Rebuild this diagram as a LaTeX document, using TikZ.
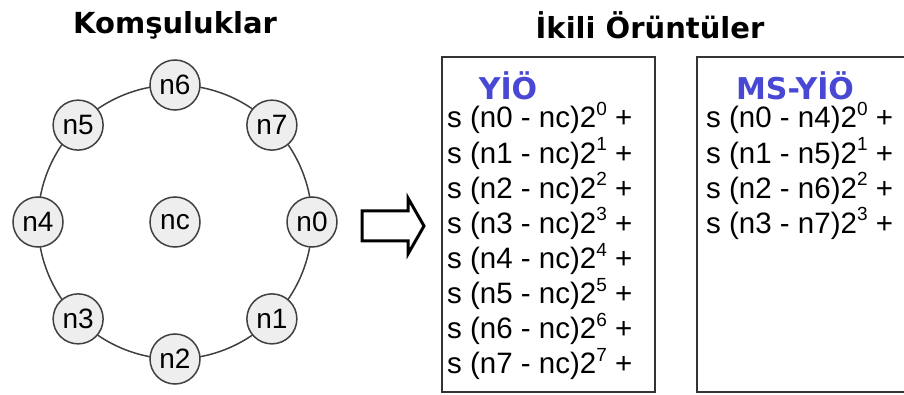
\documentclass[tikz,border=0pt]{standalone}
\usepackage{fontspec}
\setmainfont{Liberation Sans}
\newfontfamily\heavyfont{DejaVu Sans}
\definecolor{ringgray}{HTML}{404040}
\definecolor{nodefill}{HTML}{EEEEEE}
\definecolor{lbpblue}{HTML}{4848D4}
\newcommand\pw[1]{\raisebox{0.42em}{\fontsize{19}{19}\selectfont #1}}
\begin{document}
\begin{tikzpicture}[x=1pt,y=-1pt,
  nb/.style={circle,draw=ringgray,line width=1.5pt,fill=nodefill,minimum size=50pt,inner sep=0pt,font=\fontsize{28}{28}\selectfont},
  ttl/.style={font=\heavyfont\bfseries\fontsize{29}{29}\selectfont},
  hdr/.style={font=\heavyfont\bfseries\fontsize{30}{30}\selectfont,text=lbpblue},
  ln/.style={anchor=base west,inner sep=0pt,font=\fontsize{29.5}{29.5}\selectfont},
  boxst/.style={draw=black!80,line width=1.5pt}]
\useasboundingbox (0,0) rectangle (904,395);
\fill[white] (0,0) rectangle (904,395);
% titles
\node[ttl] (t1) at (175,25) {Komşuluklar};
\node[ttl] (t2) at (650,25) {İkili Örüntüler};
% ring
\coordinate (c) at (175,222);
\draw[ringgray,line width=1.5pt] (c) circle[radius=137];
\node[nb] (nc) at (c) {nc};
\node[nb] (n0) at ([shift={(0:137)}]c) {n0};
\node[nb] (n1) at ([shift={(45:137)}]c) {n1};
\node[nb] (n2) at ([shift={(90:137)}]c) {n2};
\node[nb] (n3) at ([shift={(135:137)}]c) {n3};
\node[nb] (n4) at ([shift={(180:137)}]c) {n4};
\node[nb] (n5) at ([shift={(225:137)}]c) {n5};
\node[nb] (n6) at ([shift={(270:137)}]c) {n6};
\node[nb] (n7) at ([shift={(315:137)}]c) {n7};
% arrow
\draw[line width=3pt,line join=miter] (362,211) -- (408,211) -- (408,198) -- (424,226) -- (408,254) -- (408,241) -- (362,241) -- cycle;
% boxes
\draw[boxst] (442,57) rectangle (655,392);
\draw[boxst] (697,57) rectangle (920,392);
\node[hdr] (h1) at (508,86) {YİÖ};
\node[hdr] (h2) at (795,86) {MS-YİÖ};
\foreach \i in {0,...,7}{
  \node[ln] (a\i) at (447,{128+35.1*\i}) {s (n\i\ - nc)2\pw{\i} +};
}
\node[ln] (b0) at (706,128) {s (n0 - n4)2\pw{0} +};
\node[ln] (b1) at (706,163.1) {s (n1 - n5)2\pw{1} +};
\node[ln] (b2) at (706,198.2) {s (n2 - n6)2\pw{2} +};
\node[ln] (b3) at (706,233.3) {s (n3 - n7)2\pw{3} +};
\end{tikzpicture}
\end{document}
